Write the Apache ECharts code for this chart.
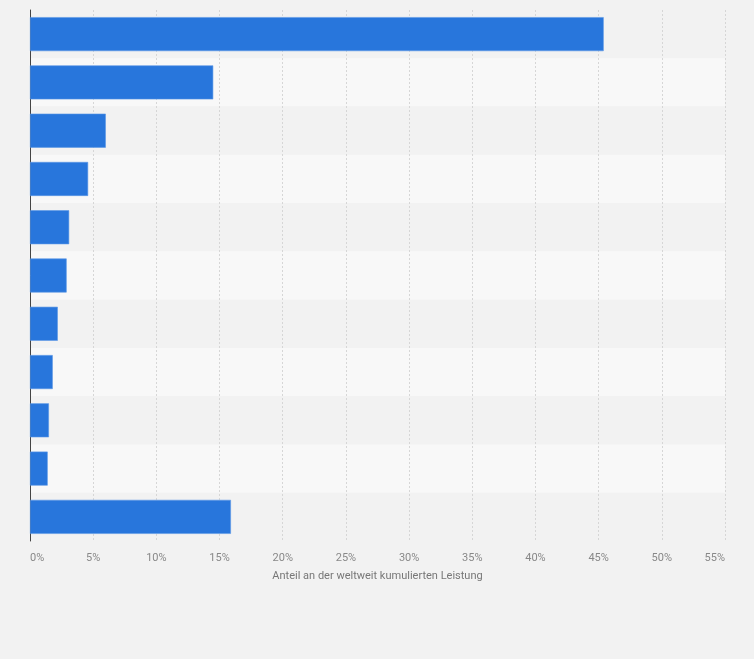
<!DOCTYPE html>
<html>
<head>
<meta charset="utf-8">
<script src="https://cdn.jsdelivr.net/npm/echarts@6/dist/echarts.min.js"></script>
<style>
html,body{margin:0;padding:0;background:#f2f2f2;}
#chart{width:754px;height:659px;}
</style>
</head>
<body>
<div id="chart"></div>
<script>
// Kategorien (im Original ohne Beschriftung)
var categories=['1','2','3','4','5','6','7','8','9','10','11'];
// Anteil in Prozent
var shares=[45.4, 14.5, 6.0, 4.6, 3.1, 2.9, 2.2, 1.8, 1.5, 1.4, 15.9];
// Achsenbereich x
var xMin=0, xMax=55, xStep=5;
var axisTitle='Anteil an der weltweit kumulierten Leistung';

var myChart=echarts.init(document.getElementById('chart'));
myChart.setOption({
    backgroundColor:'#f2f2f2',
    animation:false,
    grid:{left:30,right:29,top:10,bottom:118,containLabel:false},
    xAxis:{
        type:'value',
        min:xMin,
        max:xMax,
        interval:xStep,
        name:axisTitle,
        nameLocation:'middle',
        nameGap:30,
        nameTextStyle:{color:'#777',fontSize:11,fontFamily:'Roboto'},
        axisLine:{show:false},
        axisTick:{show:false},
        axisLabel:{
            color:'#888',
            fontSize:11,
            fontFamily:'Roboto',
            margin:12,
            alignMinLabel:'left',
            alignMaxLabel:'right',
            formatter:'{value}%'
        },
        splitLine:{show:true,lineStyle:{color:'#d6d6d6',type:[2,2],width:1}}
    },
    yAxis:{
        type:'category',
        data:categories,
        inverse:true,
        axisLine:{show:true,lineStyle:{color:'#444',width:1}},
        axisTick:{show:false},
        axisLabel:{show:false},
        splitArea:{show:true,areaStyle:{color:['#f2f2f2','#f8f8f8']}}
    },
    series:[{
        type:'bar',
        data:shares,
        barWidth:34,
        itemStyle:{color:'#2876dc',borderColor:'#5b97e6',borderWidth:0.6}
    }]
});
</script>
</body>
</html>
